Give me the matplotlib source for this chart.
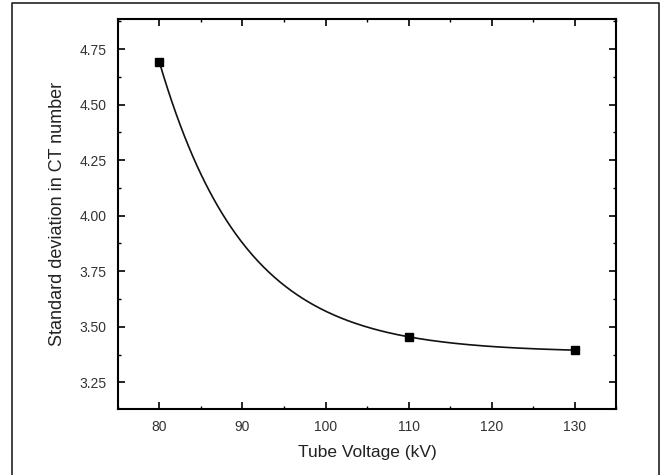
import matplotlib.pyplot as plt
import numpy as np
from matplotlib.lines import Line2D
from matplotlib.ticker import MultipleLocator

plt.rcParams['font.family'] = ['Liberation Sans', 'DejaVu Sans']

# measured points
voltage = np.array([80, 110, 130])
std_dev = np.array([4.69, 3.455, 3.395])

xticks = [80, 90, 100, 110, 120, 130]
yticks = [3.25, 3.50, 3.75, 4.00, 4.25, 4.50, 4.75]


def fit_expdec(x, y):
    # y = y0 + A*exp(-(x - x0)*k), exact through three points (bisection on k)
    d1 = x[1] - x[0]
    d2 = x[2] - x[0]
    target = (y[0] - y[1]) / (y[0] - y[2])
    lo, hi = 1e-6, 0.999999
    for i in range(200):
        t = (lo + hi) / 2
        val = (1 - np.exp(-d1 * t)) / (1 - np.exp(-d2 * t))
        if val < target:
            lo = t
        else:
            hi = t
    k = (lo + hi) / 2
    A = (y[0] - y[1]) / (1 - np.exp(-d1 * k))
    y0 = y[0] - A
    return y0, A, k


y0, A, k = fit_expdec(voltage, std_dev)
xs = np.linspace(voltage[0], voltage[-1], 300)
ys = y0 + A * np.exp(-(xs - voltage[0]) * k)

fig = plt.figure(figsize=(6.65, 4.75), dpi=100)
ax = fig.add_axes([0.1774, 0.1389, 0.749, 0.821])

ax.plot(xs, ys, color='#111111', lw=1.2)
ax.plot(voltage, std_dev, 's', color='black', markersize=6)

ax.set_xlim(75, 135)
ax.set_ylim(3.13, 4.885)
ax.set_xticks(xticks)
ax.set_yticks(yticks)
ax.set_yticklabels(['%.2f' % v for v in yticks])
ax.xaxis.set_minor_locator(MultipleLocator(5))
ax.yaxis.set_minor_locator(MultipleLocator(0.125))

ax.tick_params(which='major', direction='in', length=5, width=1.2,
               top=True, right=True, labelsize=10, labelcolor='#333333', pad=8)
ax.tick_params(which='minor', direction='in', length=2.5, width=1.0,
               top=True, right=True)
for s in ax.spines.values():
    s.set_linewidth(1.5)

ax.set_xlabel('Tube Voltage (kV)', fontsize=12.5, color='#222222', labelpad=8)
ax.set_ylabel('Standard deviation in CT number', fontsize=13, color='#222222', labelpad=10)

# outer frame (left, top, right)
fx = [12 / 665, 12 / 665, 659 / 665, 659 / 665]
fy = [0, 1 - 3 / 475, 1 - 3 / 475, 0]
fig.add_artist(Line2D(fx, fy, transform=fig.transFigure, color='#222222', lw=1.2))

plt.savefig('out.png', dpi=100)
plt.close()
